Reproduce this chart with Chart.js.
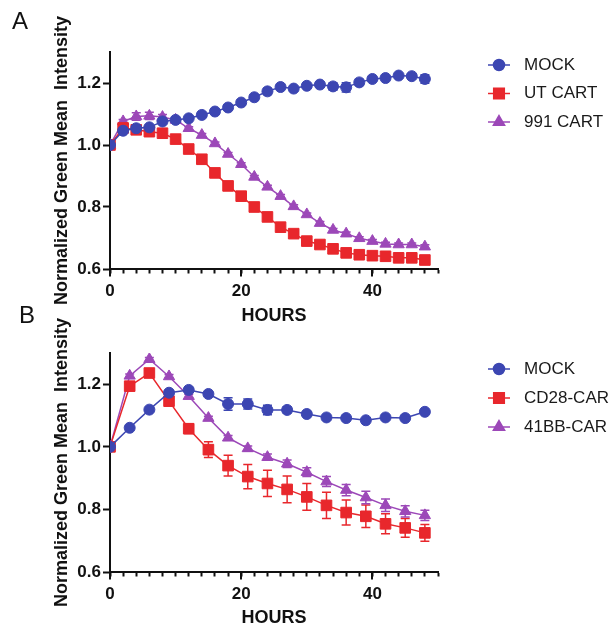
<!DOCTYPE html>
<html lang="en">

<head>
  <meta charset="UTF-8">
  <title>Normalized Green Mean Intensity</title>
  <script src="https://cdn.jsdelivr.net/npm/chart.js"></script>
  <style>
    body { margin: 0; background: #fff; width: 612px; height: 627px; position: relative; overflow: hidden; }
    canvas { position: absolute; left: 0; }
    #chartA { top: 0; }
    #chartB { top: 300px; }
    .panel { position: absolute; font: 24px "Liberation Sans", Arial, sans-serif; line-height: 1; color: #111; }
  </style>
</head>

<body>
  <canvas id="chartA" width="612" height="330"></canvas>
  <canvas id="chartB" width="612" height="327"></canvas>
  <div class="panel" style="left:12px; top:9px;">A</div>
  <div class="panel" style="left:19px; top:303px;">B</div>

  <script>
    // panel A: every 2 hours
    const hoursA = [0, 2, 4, 6, 8, 10, 12, 14, 16, 18, 20, 22, 24, 26, 28, 30, 32, 34, 36, 38, 40, 42, 44, 46, 48];
    const mockA = [1.000, 1.046, 1.054, 1.057, 1.076, 1.081, 1.086, 1.097, 1.108, 1.121, 1.137, 1.154, 1.173, 1.187, 1.182, 1.191, 1.195, 1.189, 1.186, 1.202, 1.213, 1.216, 1.224, 1.222, 1.213];
    const mockAErr = [0, 0.004, 0.004, 0.004, 0.005, 0.004, 0.005, 0.005, 0.006, 0.007, 0.008, 0.008, 0.010, 0.008, 0.006, 0.005, 0.005, 0.012, 0.015, 0.010, 0.007, 0.006, 0.006, 0.008, 0.014];
    const utCartA = [1.000, 1.055, 1.049, 1.043, 1.038, 1.019, 0.987, 0.954, 0.910, 0.868, 0.835, 0.800, 0.768, 0.735, 0.714, 0.690, 0.679, 0.665, 0.652, 0.646, 0.643, 0.641, 0.636, 0.636, 0.629];
    const utCartAErr = [0, 0.004, 0.004, 0.004, 0.004, 0.004, 0.004, 0.004, 0.004, 0.004, 0.004, 0.004, 0.004, 0.004, 0.004, 0.004, 0.004, 0.004, 0.004, 0.004, 0.004, 0.004, 0.004, 0.004, 0.004];
    const cart991A = [1.000, 1.076, 1.092, 1.094, 1.090, 1.081, 1.054, 1.032, 1.005, 0.971, 0.938, 0.897, 0.865, 0.835, 0.802, 0.776, 0.748, 0.726, 0.714, 0.699, 0.690, 0.681, 0.679, 0.679, 0.672];
    const cart991AErr = [0, 0.006, 0.012, 0.012, 0.008, 0.006, 0.005, 0.005, 0.005, 0.005, 0.005, 0.005, 0.005, 0.005, 0.005, 0.005, 0.005, 0.005, 0.005, 0.005, 0.005, 0.005, 0.005, 0.005, 0.006];

    // panel B: every 3 hours
    const hoursB = [0, 3, 6, 9, 12, 15, 18, 21, 24, 27, 30, 33, 36, 39, 42, 45, 48];
    const mockB = [1.000, 1.061, 1.119, 1.173, 1.182, 1.169, 1.137, 1.137, 1.118, 1.118, 1.105, 1.094, 1.092, 1.085, 1.094, 1.092, 1.112];
    const mockBErr = [0, 0.004, 0.004, 0.006, 0.006, 0.006, 0.020, 0.016, 0.015, 0.010, 0.006, 0.005, 0.005, 0.005, 0.005, 0.005, 0.006];
    const cd28B = [1.000, 1.194, 1.236, 1.146, 1.058, 0.991, 0.940, 0.905, 0.883, 0.864, 0.840, 0.813, 0.790, 0.778, 0.754, 0.741, 0.725];
    const cd28BErr = [0, 0.008, 0.010, 0.010, 0.015, 0.025, 0.033, 0.039, 0.042, 0.043, 0.043, 0.042, 0.040, 0.036, 0.032, 0.030, 0.027];
    const bb41B = [1.000, 1.227, 1.280, 1.225, 1.162, 1.092, 1.029, 0.995, 0.967, 0.946, 0.919, 0.889, 0.862, 0.838, 0.813, 0.794, 0.781];
    const bb41BErr = [0, 0.006, 0.006, 0.006, 0.006, 0.006, 0.007, 0.008, 0.010, 0.012, 0.014, 0.016, 0.018, 0.020, 0.020, 0.018, 0.016];

    const xTicks = [0, 2, 4, 6, 8, 10, 12, 14, 16, 18, 20, 22, 24, 26, 28, 30, 32, 34, 36, 38, 40, 42, 44, 46, 48, 50];
    const xLabels = [0, 20, 40];
    const yTicks = [0.6, 0.8, 1.0, 1.2];

    const blue = '#3c46b2', red = '#e8272c', purple = '#9c48b8', axisColor = '#111';
    Chart.defaults.font.family = "'Liberation Sans', Arial, sans-serif";
    Chart.defaults.color = axisColor;

    // error bars under the markers
    const errorBars = {
      id: 'errorBars',
      beforeDatasetsDraw(chart) {
        const { ctx, scales: { x, y } } = chart;
        chart.data.datasets.forEach(ds => {
          ctx.save();
          ctx.strokeStyle = ds.borderColor;
          ctx.lineWidth = 1.5;
          ds.data.forEach((p, i) => {
            const e = ds.errors[i];
            if (!e) return;
            const px = x.getPixelForValue(p.x);
            const top = y.getPixelForValue(p.y + e), bot = y.getPixelForValue(p.y - e);
            ctx.beginPath();
            ctx.moveTo(px, top); ctx.lineTo(px, bot);
            ctx.moveTo(px - 4.5, top); ctx.lineTo(px + 4.5, top);
            ctx.moveTo(px - 4.5, bot); ctx.lineTo(px + 4.5, bot);
            ctx.stroke();
          });
          ctx.restore();
        });
      }
    };

    // longer ticks at labelled hours
    const majorTicks = {
      id: 'majorTicks',
      afterDraw(chart) {
        const { ctx, scales: { x } } = chart;
        ctx.save();
        ctx.strokeStyle = axisColor;
        ctx.lineWidth = 2;
        xLabels.forEach(v => {
          const px = Math.round(x.getPixelForValue(v));
          ctx.beginPath();
          ctx.moveTo(px, x.top);
          ctx.lineTo(px, x.top + 7.5);
          ctx.stroke();
        });
        ctx.restore();
      }
    };

    // legend with line-through markers, to the right of the plot
    const sideLegend = {
      id: 'sideLegend',
      afterDraw(chart, args, opts) {
        const { ctx } = chart;
        chart.data.datasets.forEach((ds, i) => {
          const y = opts.y + i * opts.gap;
          ctx.save();
          ctx.strokeStyle = ds.borderColor;
          ctx.lineWidth = 1.5;
          ctx.beginPath();
          ctx.moveTo(opts.x, y);
          ctx.lineTo(opts.x + 22, y);
          ctx.stroke();
          ctx.fillStyle = ds.borderColor;
          Chart.helpers.drawPoint(ctx, {
            pointStyle: ds.pointStyle, radius: ds.pointRadius, rotation: 0, borderWidth: 1
          }, opts.x + 11, y);
          ctx.fillStyle = '#1a1a1a';
          ctx.font = "17px 'Liberation Sans', Arial, sans-serif";
          ctx.textBaseline = 'middle';
          ctx.fillText(ds.label, opts.x + 36, y);
          ctx.restore();
        });
      }
    };

    function series(label, hours, values, errors, color, style, radius) {
      return {
        label: label,
        data: hours.map((h, i) => ({ x: h, y: values[i] })),
        errors: errors,
        borderColor: color,
        backgroundColor: color,
        borderWidth: 1.5,
        pointStyle: style,
        pointRadius: radius,
        pointHoverRadius: radius,
        pointBackgroundColor: color,
        pointBorderColor: color,
        pointBorderWidth: 1,
        tension: 0
      };
    }

    function makeChart(id, datasets, layout) {
      return new Chart(document.getElementById(id), {
        type: 'line',
        data: { datasets: datasets },
        plugins: [errorBars, majorTicks, sideLegend],
        options: {
          responsive: false,
          animation: false,
          events: [],
          layout: { padding: { left: 0, right: 174, top: layout.top, bottom: layout.bottom } },
          scales: {
            x: {
              type: 'linear',
              min: 0,
              max: 50,
              afterFit: s => { s.height = layout.xHeight; },
              afterBuildTicks: s => { s.ticks = xTicks.map(v => ({ value: v })); },
              border: { display: true, color: axisColor, width: 2 },
              grid: { drawOnChartArea: false, drawTicks: true, tickLength: 4.5, tickWidth: 2, tickColor: axisColor },
              ticks: {
                autoSkip: false,
                maxRotation: 0,
                padding: 8,
                font: { size: 17, weight: 'bold' },
                callback: v => xLabels.includes(v) ? String(v) : ''
              },
              title: {
                display: true,
                text: 'HOURS',
                font: { size: 18, weight: 'bold', lineHeight: 1 },
                padding: { top: 0, bottom: 0 }
              }
            },
            y: {
              min: 0.6,
              max: 1.3,
              afterFit: s => { s.width = 110; },
              afterBuildTicks: s => { s.ticks = yTicks.map(v => ({ value: v })); },
              border: { display: true, color: axisColor, width: 2 },
              grid: { drawOnChartArea: false, drawTicks: true, tickLength: 7, tickWidth: 2, tickColor: axisColor },
              ticks: {
                padding: 2,
                font: { size: 17, weight: 'bold' },
                callback: v => v.toFixed(1)
              },
              title: {
                display: true,
                text: 'Normalized Green Mean  Intensity',
                font: { size: 18, weight: 'bold', lineHeight: 1.2 },
                padding: { top: 51, bottom: 0 }
              }
            }
          },
          plugins: {
            legend: { display: false },
            tooltip: { enabled: false },
            sideLegend: layout.legend
          }
        }
      });
    }

    makeChart('chartA', [
      series('MOCK', hoursA, mockA, mockAErr, blue, 'circle', 5.5),
      series('UT CART', hoursA, utCartA, utCartAErr, red, 'rect', 7.5),
      series('991 CART', hoursA, cart991A, cart991AErr, purple, 'triangle', 6.5)
    ], { top: 52, bottom: 5, xHeight: 56, legend: { x: 488, y: 65, gap: 28.5 } });

    makeChart('chartB', [
      series('MOCK', hoursB, mockB, mockBErr, blue, 'circle', 5.5),
      series('CD28-CAR', hoursB, cd28B, cd28BErr, red, 'rect', 7.5),
      series('41BB-CAR', hoursB, bb41B, bb41BErr, purple, 'triangle', 6.5)
    ], { top: 53, bottom: 0, xHeight: 55, legend: { x: 488, y: 69, gap: 29 } });
  </script>
</body>

</html>
